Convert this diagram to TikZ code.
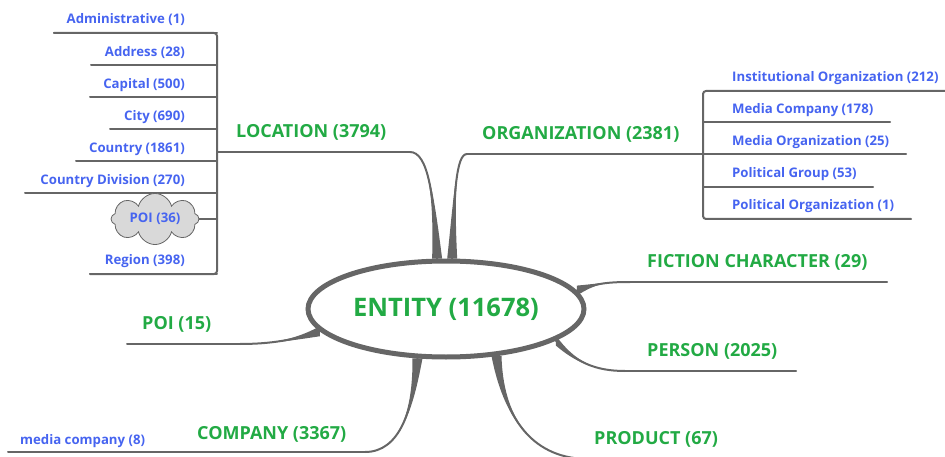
\documentclass[tikz,border=0pt]{standalone}
\usepackage{fontspec}
\setmainfont{Open Sans}
\usetikzlibrary{shapes.geometric, shapes.symbols, calc, positioning}
\definecolor{topicgreen}{RGB}{34,170,68}
\definecolor{subblue}{RGB}{70,100,240}
\definecolor{branchgrey}{RGB}{102,102,102}
\definecolor{cloudgrey}{RGB}{217,217,217}
\tikzset{
  entitymap/.style={
	x=1pt, y=-1pt, % one unit is one pixel, y grows downwards
	line cap=round,
	every node/.style={inner sep=0pt}, % anchors sit on the text
  },
  topic/.style={text=topicgreen, font=\fontsize{18}{18}\selectfont\bfseries},
  subtopic/.style={text=subblue, font=\fontsize{13.2}{14}\selectfont\bfseries},
  stem/.style={draw=branchgrey, line width=2pt},
}
% tapered branch: base, half width, control 1, control 2, end
\newcommand{\branchtaper}[5]{%
  \fill[branchgrey] ($(#1)+(#2)$) .. controls (#3) and (#4) .. (#5)
    .. controls (#4) and (#3) .. ($(#1)-(#2)$) -- cycle;
  \draw[stem] (#1) .. controls (#3) and (#4) .. (#5);
}

\begin{document}
\begin{tikzpicture}[entitymap]
\useasboundingbox (0,0) rectangle (945,457);

\node[ellipse, draw=branchgrey, line width=5pt, minimum width=276pt, minimum height=96pt,
  text=topicgreen, font=\fontsize{25.5}{26}\selectfont\bfseries] (entity) at (446,309) {ENTITY (11678)};

% main branches
\coordinate (loc end) at (410,152);
\coordinate (org end) at (467,154);
\coordinate (fic end) at (630,282);
\coordinate (per end) at (625,371);
\coordinate (pro end) at (585,459);
\coordinate (com end) at (365,452);
\coordinate (poi end) at (240,344);

\branchtaper{entity.100.6}{5,0}{434,195}{428,152}{loc end}
\branchtaper{entity.83}{5,0}{454,195}{456,154}{org end}
\branchtaper{entity.8}{0,5}{595,284}{605,282}{fic end}
\branchtaper{entity.-16}{0,5}{575,362}{595,371}{per end}
\branchtaper{entity.-43.8}{5,0}{503,415}{530,457}{pro end}
\branchtaper{entity.240.2}{5,0}{413,410}{400,452}{com end}
\branchtaper{entity.190}{0,5}{295,340}{270,344}{poi end}

\coordinate (loc bar) at (217,152);
\coordinate (org bar) at (703,154);
\draw[stem] (loc end) -- (loc bar);
\draw[stem] (org end) -- (org bar);
\draw[stem] (fic end) -- (887,282);
\draw[stem] (per end) -- (796,371);
\draw[stem] (pro end) -- (800,459);
\draw[stem] (com end) -- (8,452);
\draw[stem] (poi end) -- (127,344);

\node[topic, anchor=west] (location) at (236,132) {LOCATION (3794)};
\node[topic, anchor=west] (organization) at (482,134) {ORGANIZATION (2381)};
\node[topic, anchor=west] (fiction) at (647,262) {FICTION CHARACTER (29)};
\node[topic, anchor=west] (person) at (647,351) {PERSON (2025)};
\node[topic, anchor=west] (product) at (594,439) {PRODUCT (67)};
\node[topic, anchor=west] (company) at (197,434) {COMPANY (3367)};
\node[topic, anchor=west] (poi) at (142,324) {POI (15)};
\node[subtopic, anchor=west] (mediacompany) at (20,441) {media company (8)};

% location children
\draw[stem, rounded corners=3pt] (54,33) -- (217,33) -- (217,274) -- (90,274);
\foreach \txt/\ty/\ly/\lx in {Administrative (1)/20/33/54, Address (28)/53/65/91,
  Capital (500)/85/97/90, City (690)/117/129/110, Country (1861)/149/161/76,
  Country Division (270)/181/193/25, Region (398)/261/274/90}
{
  \node[subtopic, anchor=east] (loc\ly) at (185,\ty) {\txt};
  \draw[stem] (\lx,\ly) -- (217,\ly);
}
\node[cloud, cloud puffs=8, aspect=2.2, draw=branchgrey, thick, fill=cloudgrey,
  minimum width=88pt, minimum height=44pt, subtopic] (poi36) at (155,219) {POI (36)};
\draw[stem] (poi36.east) -- (217,219);

% organization children
\draw[stem, rounded corners=3pt] (945,91) -- (703,91) -- (703,219) -- (911,219);
\foreach \ly/\lx in {122/890, 154/906, 187/873}
  \draw[stem] (703,\ly) -- (\lx,\ly);
\foreach \txt/\ty in {Institutional Organization (212)/78, Media Company (178)/110,
  Media Organization (25)/142, Political Group (53)/174, Political Organization (1)/206}
  \node[subtopic, anchor=west] (org\ty) at (732,\ty) {\txt};
\end{tikzpicture}
\end{document}
